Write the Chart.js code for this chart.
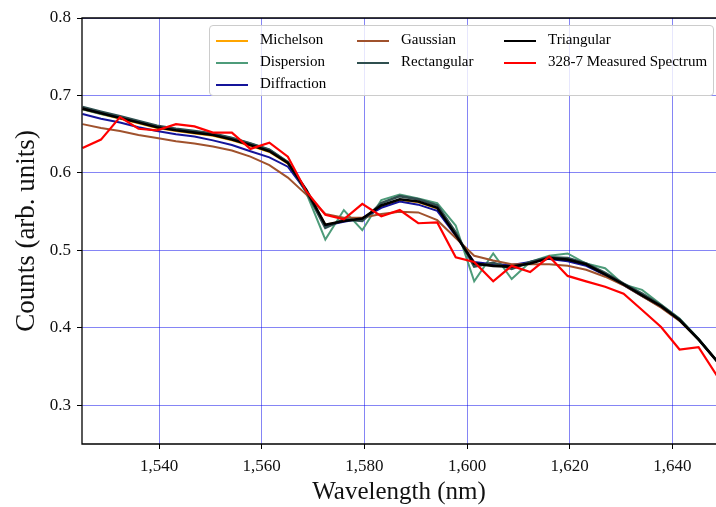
<!DOCTYPE html>
<html>
<head>
<meta charset="utf-8">
<script src="https://cdn.jsdelivr.net/npm/chart.js@4.4.0/dist/chart.umd.min.js"></script>
<style>
  html, body { margin: 0; padding: 0; background: #fff; }
  #wrap { position: relative; width: 716px; height: 507px; overflow: hidden; }
  #legend {
    position: absolute; left: 209px; top: 25px; width: 503px; height: 69px;
    border: 1px solid #cccccc; border-radius: 4px;
    background: rgba(255,255,255,0.8);
    font-family: "Liberation Serif", "Times New Roman", serif; font-size: 15px; color: #000;
  }
  .item { position: absolute; height: 20px; line-height: 20px; white-space: nowrap; }
  .item span.ln { display: inline-block; width: 32px; height: 2px; vertical-align: middle; margin-right: 12px; }
</style>
</head>
<body>
<div id="wrap">
  <canvas id="chart" width="716" height="507"></canvas>
  <div id="legend"></div>
</div>
<script>
// wavelength samples (nm)
const wavelengths = [1525.1, 1528.7, 1532.4, 1536.0, 1539.6, 1543.3, 1546.9, 1550.5, 1554.2, 1557.8,
  1561.5, 1565.1, 1568.7, 1572.4, 1576.0, 1579.6, 1583.3, 1586.9, 1590.5, 1594.2,
  1597.8, 1601.4, 1605.1, 1608.7, 1612.3, 1616.0, 1619.6, 1623.2, 1626.9, 1630.5,
  1634.1, 1637.8, 1641.4, 1645.1, 1648.7];

const michelson = [0.682, 0.676, 0.670, 0.664, 0.658, 0.654, 0.651, 0.648, 0.642, 0.635,
  0.627, 0.612, 0.577, 0.533, 0.538, 0.541, 0.557, 0.565, 0.562, 0.554,
  0.520, 0.484, 0.481, 0.480, 0.484, 0.490, 0.487, 0.481, 0.469, 0.456,
  0.442, 0.428, 0.410, 0.385, 0.357];
const dispersion = [0.682, 0.676, 0.671, 0.666, 0.660, 0.656, 0.653, 0.650, 0.645, 0.638,
  0.630, 0.614, 0.574, 0.514, 0.552, 0.526, 0.565, 0.572, 0.567, 0.561,
  0.532, 0.460, 0.496, 0.463, 0.485, 0.493, 0.496, 0.483, 0.477, 0.456,
  0.449, 0.430, 0.412, 0.386, 0.357];
const diffraction = [0.676, 0.670, 0.665, 0.659, 0.654, 0.650, 0.647, 0.642, 0.636, 0.628,
  0.620, 0.608, 0.576, 0.532, 0.537, 0.541, 0.555, 0.563, 0.559, 0.551,
  0.519, 0.485, 0.482, 0.481, 0.485, 0.489, 0.486, 0.480, 0.468, 0.455,
  0.441, 0.427, 0.410, 0.385, 0.357];
const gaussian = [0.663, 0.658, 0.654, 0.649, 0.645, 0.641, 0.638, 0.634, 0.629, 0.621,
  0.610, 0.594, 0.572, 0.547, 0.542, 0.542, 0.547, 0.550, 0.549, 0.539,
  0.516, 0.493, 0.487, 0.482, 0.482, 0.482, 0.480, 0.475, 0.466, 0.455,
  0.441, 0.426, 0.409, 0.385, 0.357];
const rectangular = [0.685, 0.679, 0.673, 0.667, 0.661, 0.657, 0.654, 0.651, 0.645, 0.638,
  0.630, 0.614, 0.576, 0.529, 0.540, 0.538, 0.561, 0.570, 0.566, 0.558,
  0.523, 0.479, 0.484, 0.476, 0.485, 0.491, 0.490, 0.483, 0.471, 0.457,
  0.444, 0.429, 0.411, 0.385, 0.357];
const triangular = [0.683, 0.677, 0.671, 0.665, 0.659, 0.655, 0.652, 0.649, 0.643, 0.636,
  0.628, 0.613, 0.578, 0.533, 0.538, 0.541, 0.558, 0.566, 0.563, 0.555,
  0.520, 0.483, 0.480, 0.479, 0.483, 0.490, 0.488, 0.482, 0.469, 0.456,
  0.442, 0.428, 0.410, 0.385, 0.357];
const measured = [0.632, 0.643, 0.672, 0.657, 0.655, 0.663, 0.660, 0.652, 0.652, 0.631,
  0.639, 0.621, 0.576, 0.546, 0.540, 0.560, 0.544, 0.552, 0.535, 0.536,
  0.491, 0.485, 0.460, 0.480, 0.472, 0.492, 0.467, 0.460, 0.453, 0.444,
  0.423, 0.401, 0.372, 0.375, 0.338];

const xTicks = [1540, 1560, 1580, 1600, 1620, 1640];
const yTicks = [0.3, 0.4, 0.5, 0.6, 0.7, 0.8];

// name, values, colour, width, order (lower = drawn on top)
const series = [
  ['Michelson', michelson, '#ffa500', 2, 6],
  ['Dispersion', dispersion, '#4e9c7a', 2, 5],
  ['Diffraction', diffraction, '#14149a', 2, 4],
  ['Gaussian', gaussian, '#a0522d', 2, 3],
  ['Rectangular', rectangular, '#2f4f4f', 2.6, 2],
  ['Triangular', triangular, '#000000', 2.6, 1],
  ['328-7 Measured Spectrum', measured, '#ff0000', 2.2, 0],
];

const datasets = series.map(s => ({
  label: s[0],
  data: wavelengths.map((w, i) => ({ x: w, y: s[1][i] })),
  borderColor: s[2],
  backgroundColor: s[2],
  borderWidth: s[3],
  order: s[4],
  pointRadius: 0,
  tension: 0,
  fill: false,
}));

const serif = "'Liberation Serif', 'Times New Roman', serif";
const gridBlue = 'rgba(0,0,235,0.48)';

// black frame on left, top and bottom
const frame = {
  id: 'frame',
  afterDatasetsDraw(chart) {
    const a = chart.chartArea, ctx = chart.ctx;
    ctx.save();
    ctx.strokeStyle = '#000';
    ctx.lineWidth = 1.3;
    ctx.beginPath();
    ctx.moveTo(a.right + 2, a.top);
    ctx.lineTo(a.left, a.top);
    ctx.lineTo(a.left, a.bottom);
    ctx.lineTo(a.right + 2, a.bottom);
    ctx.stroke();
    ctx.restore();
  }
};

const chart = new Chart(document.getElementById('chart'), {
  type: 'line',
  data: { datasets: datasets },
  plugins: [frame],
  options: {
    responsive: false,
    animation: false,
    layout: { padding: { top: 18, right: 0, left: 0, bottom: 0 } },
    plugins: { legend: { display: false }, tooltip: { enabled: false } },
    scales: {
      x: {
        type: 'linear',
        min: 1525,
        max: 1648.5,
        afterFit: s => { s.height = 63; },
        afterBuildTicks: s => { s.ticks = xTicks.map(v => ({ value: v })); },
        grid: { color: gridBlue, lineWidth: 1, tickColor: '#000', tickLength: 5 },
        border: { display: false },
        ticks: {
          color: '#111',
          padding: 7,
          font: { family: serif, size: 17 },
          callback: v => v.toLocaleString('en-US'),
        },
        title: {
          display: true,
          text: 'Wavelength (nm)',
          color: '#111',
          font: { family: serif, size: 25 },
          padding: { top: 0, bottom: 0 },
        },
      },
      y: {
        min: 0.25,
        max: 0.8,
        afterFit: s => { s.width = 82; },
        afterBuildTicks: s => { s.ticks = yTicks.map(v => ({ value: v })); },
        grid: { color: gridBlue, lineWidth: 1, tickColor: '#000', tickLength: 5 },
        border: { display: false },
        ticks: {
          color: '#111',
          padding: 6,
          font: { family: serif, size: 17 },
          callback: v => v.toFixed(1),
        },
        title: {
          display: true,
          text: 'Counts (arb. units)',
          color: '#111',
          font: { family: serif, size: 27 },
          padding: { top: 11, bottom: 0 },
        },
      },
    },
  },
});

// legend in three columns, filled column by column (3, 2, 2)
const legend = document.getElementById('legend');
const colX = [6, 147, 294];
const rowY = [3, 25, 47];
const legendCol = [0, 0, 0, 1, 1, 2, 2];
const legendRow = [0, 1, 2, 0, 1, 0, 1];
series.forEach((s, i) => {
  const item = document.createElement('div');
  item.className = 'item';
  item.style.left = colX[legendCol[i]] + 'px';
  item.style.top = rowY[legendRow[i]] + 'px';
  const ln = document.createElement('span');
  ln.className = 'ln';
  ln.style.background = s[2];
  item.appendChild(ln);
  item.appendChild(document.createTextNode(s[0]));
  legend.appendChild(item);
});
</script>
</body>
</html>
